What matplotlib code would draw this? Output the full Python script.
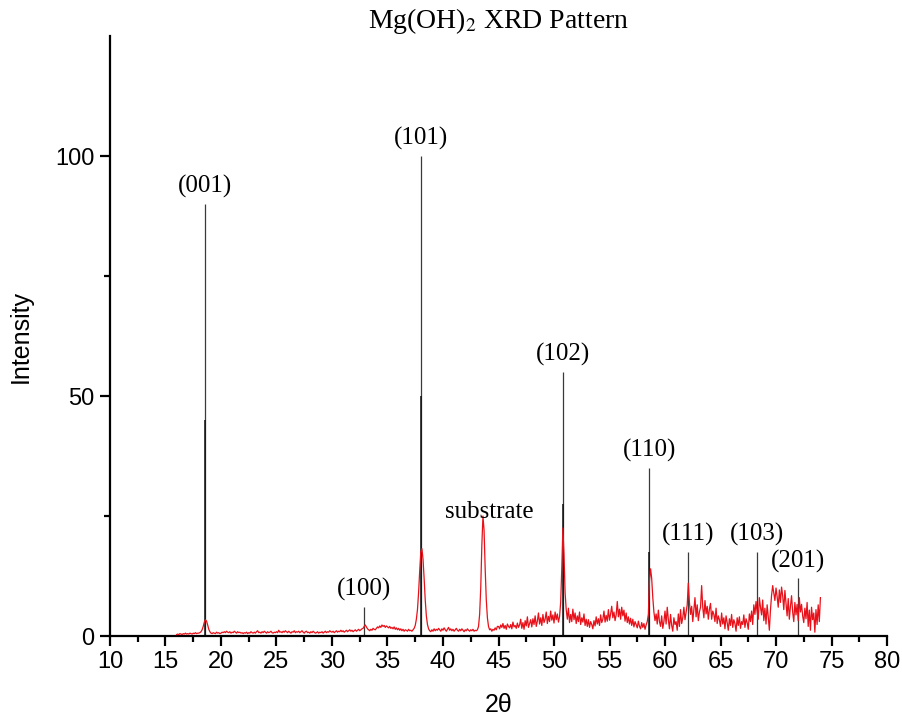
import numpy as np
import matplotlib
matplotlib.use("Agg")
import matplotlib.pyplot as plt
from matplotlib.ticker import MultipleLocator

plt.rcParams['mathtext.fontset'] = 'stix'

# measured pattern, 0.1 deg steps from 16.0 to 74.0
two_theta_start = 16.0
two_theta_step = 0.1
intensity = [
    0.3, 0.4, 0.3, 0.5, 0.4, 0.3, 0.5, 0.4, 0.6, 0.4,   # 16
    0.5, 0.4, 0.6, 0.5, 0.4, 0.6, 0.5, 0.7, 0.5, 0.6,   # 17
    0.6, 0.7, 0.9, 1.3, 2.0, 2.9, 3.4, 3.1, 2.3, 1.4,   # 18
    0.9, 0.6, 0.5, 0.7, 0.6, 0.5, 0.8, 0.6, 0.7, 0.5,   # 19
    0.6, 0.8, 0.7, 0.9, 0.7, 1.0, 0.8, 0.7, 0.9, 0.6,   # 20
    0.8, 0.7, 1.0, 0.8, 0.6, 0.9, 0.7, 0.8, 0.6, 0.7,   # 21
    0.5, 0.7, 0.6, 0.8, 0.5, 0.7, 0.6, 0.9, 0.7, 0.6,   # 22
    0.8, 0.6, 0.9, 1.1, 0.7, 0.8, 0.6, 0.9, 0.7, 1.0,   # 23
    0.8, 0.6, 0.9, 0.7, 0.8, 1.0, 0.7, 0.6, 0.8, 0.7,   # 24
    0.9, 0.7, 1.2, 0.8, 0.9, 0.7, 1.0, 0.8, 1.1, 0.9,   # 25
    0.7, 1.0, 0.8, 0.6, 0.9, 0.8, 1.1, 0.7, 0.9, 0.8,   # 26
    1.0, 0.7, 0.9, 1.1, 0.8, 0.6, 0.9, 1.0, 0.7, 0.8,   # 27
    0.6, 0.9, 0.7, 1.0, 0.8, 0.6, 0.7, 0.9, 0.6, 0.8,   # 28
    0.7, 0.9, 0.6, 0.8, 1.0, 0.7, 0.9, 0.8, 1.1, 0.9,   # 29
    0.8, 1.0, 0.7, 0.9, 1.1, 0.8, 1.0, 0.9, 1.2, 0.9,   # 30
    1.1, 0.8, 1.0, 1.2, 0.9, 1.1, 1.3, 1.0, 1.2, 0.9,   # 31
    1.1, 1.3, 1.0, 1.2, 1.4, 1.1, 1.3, 1.5, 1.6, 2.0,   # 32
    2.3, 1.9, 1.5, 1.3, 1.1, 1.4, 1.2, 1.6, 1.4, 1.3,   # 33
    1.6, 1.9, 1.7, 2.1, 1.8, 2.3, 2.0, 2.2, 1.8, 2.1,   # 34
    1.9, 1.7, 2.0, 1.6, 1.8, 1.5, 1.9, 1.4, 1.7, 1.3,   # 35
    1.6, 1.2, 1.5, 1.1, 1.4, 1.0, 1.3, 1.2, 1.0, 1.4,   # 36
    1.1, 1.2, 1.0, 1.3, 1.6, 2.2, 3.5, 5.5, 9.0, 13.5,  # 37
    17.5, 18.2, 16.0, 12.0, 7.5, 4.2, 2.4, 1.5, 1.1, 0.9,  # 38
    1.3, 1.0, 1.5, 1.1, 1.4, 1.2, 1.6, 1.3, 1.0, 1.5,   # 39
    1.2, 1.7, 1.3, 1.0, 1.4, 1.8, 1.2, 1.5, 1.1, 1.4,   # 40
    1.0, 1.3, 1.6, 1.2, 1.0, 1.4, 1.1, 1.5, 1.2, 0.9,   # 41
    1.3, 1.1, 1.5, 1.2, 1.0, 1.3, 1.1, 1.4, 1.0, 1.2,   # 42
    1.1, 1.3, 2.0, 4.5, 10.0, 19.0, 25.0, 22.0, 14.0, 7.5,  # 43
    3.8, 2.0, 1.3, 1.5, 1.0, 1.4, 1.2, 1.7, 1.3, 2.0,   # 44
    2.0, 1.5, 2.3, 1.8, 2.6, 1.6, 2.2, 1.4, 2.5, 2.0,   # 45
    1.7, 2.4, 1.5, 2.9, 1.9, 2.2, 1.6, 2.7, 1.8, 2.3,   # 46
    3.5, 1.6, 2.8, 1.4, 3.2, 2.1, 4.0, 1.8, 2.6, 3.4,   # 47
    1.9, 3.6, 2.4, 4.2, 2.0, 3.1, 4.8, 2.5, 3.8, 2.2,   # 48
    4.5, 2.8, 3.5, 5.0, 2.6, 4.1, 3.0, 5.2, 3.3, 4.4,   # 49
    2.7, 5.0, 3.4, 4.6, 2.9, 4.0, 7.0, 14.0, 22.5, 17.0,  # 50
    9.0, 5.5, 3.5, 5.8, 2.8, 4.5, 3.0, 5.6, 3.4, 4.8,   # 51
    2.6, 4.2, 3.0, 5.0, 2.4, 3.8, 2.9, 4.6, 2.2, 3.5,   # 52
    2.0, 3.4, 1.8, 3.0, 2.4, 1.5, 3.2, 2.1, 4.0, 2.5,   # 53
    3.6, 2.2, 4.4, 2.8, 3.5, 5.2, 2.9, 4.3, 3.1, 5.5,   # 54
    3.3, 4.6, 6.2, 3.8, 5.0, 3.2, 4.4, 7.2, 4.0, 5.6,   # 55
    3.5, 6.0, 4.2, 5.4, 3.1, 4.8, 2.8, 4.0, 2.5, 3.7,   # 56
    2.2, 3.5, 1.9, 3.0, 2.4, 1.7, 3.1, 2.0, 1.5, 2.8,   # 57
    1.8, 2.6, 1.4, 2.3, 3.0, 4.5, 11.5, 14.0, 12.0, 8.0,  # 58
    5.0, 3.2, 4.6, 2.5, 5.4, 3.0, 2.0, 4.2, 1.6, 3.0,   # 59
    5.2, 2.5, 6.0, 3.4, 1.5, 4.5, 2.2, 1.0, 3.8, 2.4,   # 60
    3.0, 1.2, 4.6, 2.0, 5.5, 2.6, 3.8, 6.0, 3.4, 5.0,   # 61
    6.5, 11.0, 7.0, 4.5, 6.2, 3.0, 5.4, 8.0, 4.0, 6.5,  # 62
    3.2, 5.0, 6.0, 10.5, 6.0, 3.8, 7.4, 4.6, 6.2, 3.5,  # 63
    5.6, 6.8, 3.5, 5.2, 4.5, 3.0, 5.8, 2.6, 4.2, 3.4,   # 64
    2.0, 4.8, 2.5, 3.8, 1.5, 4.2, 2.8, 1.2, 3.6, 2.2,   # 65
    4.5, 1.8, 3.4, 2.6, 1.0, 3.8, 2.2, 4.0, 1.6, 3.0,   # 66
    2.4, 4.4, 1.8, 3.6, 2.8, 1.4, 4.6, 3.0, 5.2, 2.4,   # 67
    6.5, 4.5, 7.2, 5.0, 3.5, 8.0, 6.0, 4.4, 7.5, 3.2,   # 68
    5.8, 2.5, 6.5, 4.0, 1.2, 5.4, 8.5, 10.5, 9.0, 7.4,  # 69
    10.0, 8.2, 6.0, 9.6, 7.0, 10.2, 8.4, 5.5, 9.5, 6.8, # 70
    4.2, 7.8, 3.5, 6.2, 8.4, 5.0, 3.0, 7.0, 4.4, 6.6,   # 71
    3.2, 8.0, 5.0, 6.6, 4.2, 2.8, 5.8, 3.6, 7.0, 2.0,   # 72
    5.4, 1.2, 6.0, 3.4, 4.8, 0.8, 5.5, 2.4, 6.5, 3.0,   # 73
    8.0,                                                # 74
]
two_theta = two_theta_start + two_theta_step * np.arange(len(intensity))

# reference peak positions (stick pattern)
peak_pos = [18.6, 32.85, 38.0, 50.8, 58.6, 62.1, 68.25, 72.0]
peak_height = [90, 6, 100, 55, 35, 17.5, 17.5, 12]
peak_labels = ['(001)', '(100)', '(101)', '(102)', '(110)', '(111)', '(103)', '(201)']
inner_pos = [18.6, 38.0, 50.8, 58.6]
inner_height = [45, 50, 27.5, 17.5]

substrate_pos = 44.2
substrate_y = 23.5

fig = plt.figure(figsize=(9.03, 7.23), dpi=100)
ax = fig.add_axes([0.1218, 0.1203, 0.8605, 0.8299])

ax.vlines(peak_pos, 0, peak_height, color='#3a3a3a', lw=0.9, zorder=2)
ax.vlines(inner_pos, 0, inner_height, color='#111111', lw=1.1, zorder=2)
ax.plot(two_theta, intensity, color='#e8111a', lw=0.9, zorder=3)

for x, h, lab in zip(peak_pos, peak_height, peak_labels):
    ax.text(x, h + 1.2, lab, ha='center', va='bottom', fontsize=18,
            family='Liberation Serif')
ax.text(substrate_pos, substrate_y, 'substrate', ha='center', va='bottom',
        fontsize=18, family='Liberation Serif')

ax.set_xlim(10, 80)
ax.set_ylim(0, 125)
ax.xaxis.set_major_locator(MultipleLocator(5))
ax.xaxis.set_minor_locator(MultipleLocator(2.5))
ax.set_yticks([0, 50, 100])
ax.set_yticks([25, 75], minor=True)

for s in ['top', 'right']:
    ax.spines[s].set_visible(False)
for s in ['left', 'bottom']:
    ax.spines[s].set_linewidth(1.6)

ax.tick_params(which='major', direction='out', length=7, width=1.6,
               labelsize=17, pad=4)
ax.tick_params(which='minor', direction='out', length=4, width=1.6)
for lab in ax.get_xticklabels() + ax.get_yticklabels():
    lab.set_family('Liberation Sans')

ax.set_xlabel('2θ', fontsize=18, family='Liberation Sans', labelpad=14)
ax.set_ylabel('Intensity', fontsize=18, family='Liberation Sans', labelpad=16)
ax.set_title('Mg(OH)$_2$ XRD Pattern', fontsize=20, family='Liberation Serif',
             pad=4)

fig.savefig('out.png', dpi=100)
